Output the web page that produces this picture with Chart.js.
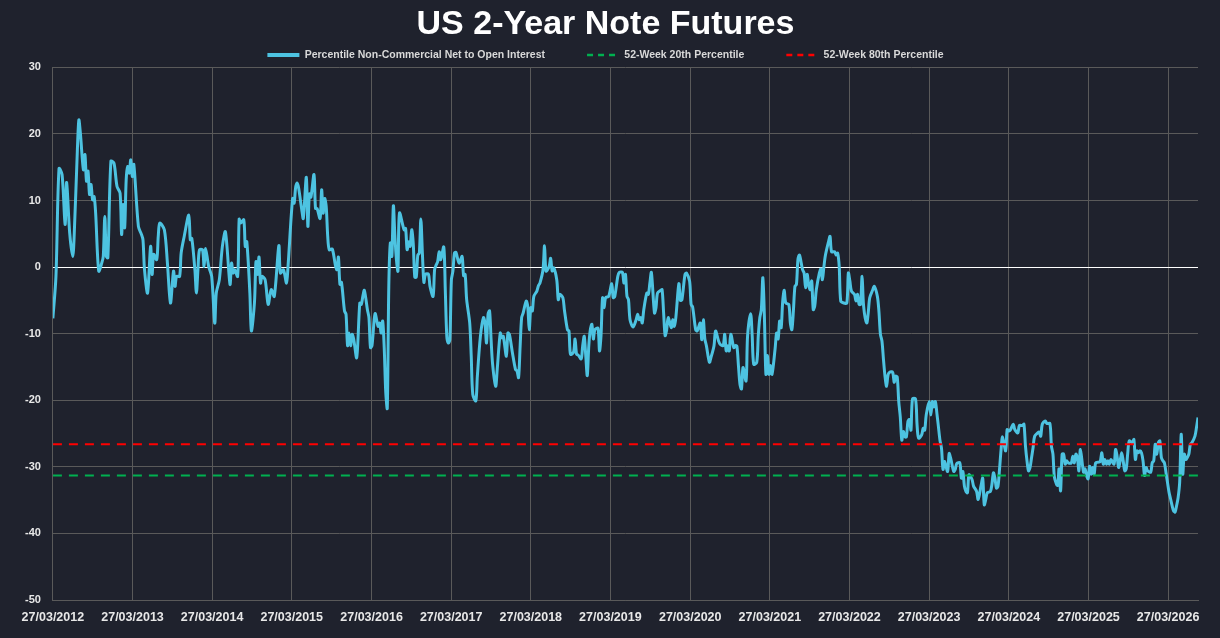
<!DOCTYPE html>
<html>
<head>
<meta charset="utf-8">
<title>US 2-Year Note Futures</title>
<script src="https://cdn.jsdelivr.net/npm/chart.js@4.4.1/dist/chart.umd.min.js"></script>
<style>
    html, body { margin: 0; padding: 0; background: #1f222d; }
    #wrap { width: 1220px; height: 638px; }
</style>
</head>
<body>
<div id="wrap"><canvas id="chart"></canvas></div>
<script>
// weeks since 27/03/2012 and the percentile reading for that week
const weekNo = [
    0, 2, 4, 6, 8, 9, 11, 13, 14, 16, 17, 18, 20, 21, 22, 23, 24, 25, 26, 27, 28, 30, 32, 33, 34, 35, 36, 38, 40, 42,
    44, 45, 46, 47, 48, 49, 50, 51, 52, 53, 56, 58, 59, 60, 62, 64, 65, 66, 68, 69, 70, 73, 75, 77, 79, 80, 81, 83, 84, 86,
    89, 90, 91, 93, 94, 95, 96, 98, 99, 100, 102, 104, 106, 107, 109, 111, 113, 116, 117, 118, 119, 121, 122, 123, 125, 126, 127, 129, 130, 132,
    133, 134, 135, 136, 137, 139, 141, 143, 145, 148, 149, 151, 153, 154, 157, 158, 159, 160, 161, 163, 164, 166, 167, 168, 169, 171, 172, 173, 175, 176,
    177, 178, 179, 180, 181, 183, 185, 186, 187, 188, 189, 191, 192, 193, 194, 195, 196, 197, 199, 201, 202, 203, 204, 206, 207, 208, 209, 211, 213, 214,
    215, 216, 217, 218, 219, 220, 221, 222, 223, 224, 225, 226, 227, 230, 231, 232, 233, 234, 235, 236, 237, 238, 239, 240, 241, 242, 243, 244, 246, 247,
    249, 250, 251, 252, 253, 254, 256, 257, 258, 259, 260, 261, 262, 263, 264, 266, 268, 269, 270, 271, 273, 274, 275, 277, 278, 280, 282, 283, 284, 285,
    286, 287, 288, 290, 291, 293, 294, 295, 297, 298, 299, 301, 303, 304, 305, 306, 307, 308, 310, 311, 312, 313, 314, 315, 317, 318, 319, 321, 322, 323,
    325, 326, 327, 328, 330, 331, 332, 334, 335, 337, 338, 339, 341, 342, 343, 344, 346, 347, 348, 349, 350, 351, 352, 353, 354, 355, 357, 358, 359, 360,
    361, 362, 364, 366, 367, 368, 370, 371, 373, 374, 375, 376, 377, 378, 380, 382, 383, 384, 385, 386, 387, 389, 390, 391, 392, 394, 395, 396, 398, 399,
    400, 401, 402, 403, 405, 406, 407, 408, 410, 411, 412, 414, 415, 417, 418, 419, 421, 422, 424, 425, 426, 427, 428, 430, 431, 433, 434, 436, 437, 439,
    440, 441, 442, 443, 444, 446, 447, 448, 449, 450, 451, 452, 454, 455, 457, 458, 459, 461, 462, 463, 464, 465, 466, 467, 468, 469, 470, 471, 473, 474,
    475, 476, 477, 478, 479, 480, 482, 483, 484, 485, 486, 487, 488, 489, 491, 492, 493, 494, 495, 496, 497, 498, 499, 500, 502, 503, 504, 505, 506, 508,
    509, 510, 512, 513, 514, 515, 516, 518, 520, 521, 522, 523, 525, 526, 527, 528, 529, 530, 531, 533, 534, 535, 537, 538, 540, 541, 542, 543, 544, 545,
    546, 547, 548, 550, 551, 552, 553, 554, 555, 556, 557, 558, 559, 560, 561, 562, 563, 565, 566, 567, 569, 570, 571, 572, 574, 575, 576, 577, 578, 579,
    580, 581, 582, 583, 584, 586, 587, 588, 590, 591, 592, 594, 595, 596, 597, 598, 599, 600, 602, 603, 605, 606, 608, 609, 610, 611, 612, 614, 615, 616,
    617, 618, 619, 620, 621, 622, 624, 625, 626, 627, 629, 630, 632, 633, 635, 636, 637, 638, 639, 640, 641, 642, 643, 645, 646, 647, 648, 650, 651, 653,
    654, 655, 656, 658, 659, 660, 661, 662, 663, 664, 665, 667, 668, 669, 670, 671, 672, 673, 675, 676, 677, 678, 679, 680, 681, 682, 683, 685, 686, 687,
    688, 689, 690, 691, 692, 693, 695, 696, 697, 698, 699, 700, 701, 702, 703, 704, 705, 707, 708, 709, 710, 711, 712, 713, 714, 715, 716, 717, 719, 720,
    721, 722, 723, 724, 725, 726, 727, 728, 729, 731, 732, 733, 734, 735, 736, 737, 738, 739, 740, 741, 742, 743, 744, 745, 746, 748, 749, 750
];
const netPct = [
    -7.7, -1.4, 14.8, 13.9, 6.4, 12.7, 5.1, 1.6, 5.1, 17.4, 22.1, 20.1, 14.6, 16.9, 12.9, 14.4, 10.9, 12.4, 10.1, 10.6, 8.1, -0.6, 0.6, 1.6, 7.6, 1.6, 1.4, 15.9, 15.6, 12.1,
    11.1, 4.9, 9.4, 5.9, 13.1, 15.1, 14.1, 16.1, 13.6, 15.4, 6.1, 4.9, 4.1, -0.4, -3.9, 3.1, -1.1, 1.9, 1.1, 4.6, 6.6, 5.6, 0.6, -5.4, -0.6, -2.9, -1.4, -1.4, 2.1, 4.6,
    7.8, 4.1, 4.3, -0.4, -3.9, -0.4, 2.6, 2.6, 0.1, 2.8, 0.1, -1.4, -8.4, -3.9, -1.9, 3.1, 5.3, -2.6, 0.6, -0.9, -0.4, -1.4, 7.2, 6.6, 7.1, 3.1, 3.8, -3.9, -9.6, -5.4,
    0.8, -1.1, 1.5, -2.4, -1.4, -1.9, -5.6, -3.4, -4.4, 3.2, -0.9, -0.4, -2.4, 0.1, 10.3, 9.6, 12.0, 12.6, 11.8, 8.6, 7.3, 13.5, 6.1, 11.0, 10.5, 13.9, 8.8, 8.8, 7.3, 11.6,
    8.1, 10.3, 9.1, 4.6, 2.6, 2.7, 0.3, -0.4, 1.5, -2.6, -2.3, -6.6, -7.1, -11.8, -9.9, -11.8, -10.1, -10.8, -13.6, -5.4, -5.6, -4.4, -3.5, -6.4, -7.6, -12.1, -11.8, -7.0, -8.9, -8.4,
    -9.9, -8.1, -12.1, -18.8, -21.2, -2.9, 3.6, 1.6, 9.2, 4.6, 1.1, -0.6, 8.1, 5.6, 5.8, 2.6, 3.8, 3.1, 5.6, 3.6, -1.5, -1.5, 1.8, 2.1, 7.2, 2.1, -2.3, -1.1, -1.1, -2.9,
    -4.4, -0.4, 0.3, 0.8, 2.3, 1.1, 3.0, -3.4, -10.4, -11.4, -10.9, -1.9, -0.6, 2.1, 2.2, 0.6, 1.6, -1.3, -1.1, -4.9, -8.4, -13.4, -19.1, -20.1, -16.4, -10.4, -7.6, -8.4, -11.4, -7.1,
    -6.6, -10.9, -14.6, -17.9, -15.4, -9.9, -10.6, -10.4, -13.4, -9.9, -10.1, -12.9, -15.4, -15.6, -16.6, -12.0, -7.6, -6.9, -5.1, -5.9, -9.4, -6.1, -6.6, -4.4, -3.6, -2.8, -2.4, -0.4, 3.2, -0.6,
    0.1, 1.3, -0.6, -0.1, -1.9, -4.9, -4.1, -4.6, -6.4, -9.4, -9.6, -13.1, -12.8, -10.8, -13.1, -13.2, -13.8, -11.8, -10.4, -13.3, -16.3, -11.8, -9.4, -8.6, -10.8, -9.4, -9.2, -12.6, -10.3, -4.6,
    -6.1, -4.6, -4.4, -2.5, -4.6, -4.4, -1.4, -0.8, -0.8, -2.4, -1.1, -4.4, -4.9, -7.9, -9.0, -7.9, -7.1, -7.9, -7.6, -8.4, -6.4, -3.9, -4.1, -2.4, -0.8, -6.9, -6.1, -3.9, -3.5, -3.4,
    -6.9, -10.3, -9.4, -7.6, -9.1, -7.9, -8.9, -7.6, -2.5, -5.0, -4.9, -1.1, -0.9, -2.1, -5.6, -6.0, -9.4, -9.6, -8.4, -10.9, -7.9, -10.8, -11.8, -14.3, -13.6, -11.8, -9.6, -11.1, -11.6, -11.8,
    -10.1, -12.6, -11.8, -12.6, -10.1, -12.1, -11.8, -11.9, -14.8, -17.6, -18.3, -15.1, -17.1, -10.3, -7.0, -10.3, -14.6, -14.3, -10.3, -7.6, -6.4, -1.6, -7.4, -16.1, -13.3, -16.1, -14.8, -16.1, -12.3, -9.9,
    -10.8, -8.1, -9.1, -5.1, -3.5, -5.4, -5.6, -8.4, -9.4, -6.6, -2.9, -2.6, 1.2, 1.8, -0.4, -0.9, -3.1, -1.1, -2.6, -3.4, -2.1, -6.4, -5.8, -3.4, -0.9, -0.3, -1.9, 0.1, 1.8, 3.8,
    4.6, 2.3, 2.3, 1.8, 2.1, 0.1, -5.1, -5.4, -5.4, -0.9, -2.1, -3.6, -4.1, -5.1, -4.1, -5.6, -5.6, -1.4, -5.9, -8.4, -6.9, -4.6, -3.4, -2.9, -4.4, -6.6, -10.1, -11.1, -13.9, -16.4,
    -17.9, -16.2, -15.8, -15.8, -17.3, -16.4, -16.5, -20.2, -22.5, -26.0, -24.7, -25.5, -25.5, -23.2, -22.9, -24.5, -19.8, -19.8, -23.7, -25.7, -25.2, -24.2, -24.5, -22.2, -20.2, -22.2, -20.2, -21.0, -20.2, -22.0,
    -24.0, -26.0, -27.2, -30.4, -29.2, -30.7, -28.0, -28.7, -30.7, -30.4, -29.5, -29.4, -31.7, -30.7, -32.9, -33.7, -33.9, -31.2, -31.9, -32.9, -33.7, -34.9, -32.7, -31.7, -35.7, -34.9, -33.9, -33.7, -32.7, -30.9,
    -31.7, -33.2, -32.9, -30.4, -27.5, -25.5, -27.6, -24.4, -24.6, -24.5, -23.6, -24.4, -24.9, -23.8, -23.8, -23.6, -26.9, -29.1, -30.6, -30.1, -28.6, -27.1, -25.4, -24.9, -24.8, -25.4, -23.6, -23.1, -23.5, -23.5,
    -26.9, -28.1, -31.6, -32.8, -30.3, -33.6, -28.1, -28.1, -29.6, -29.1, -29.4, -29.4, -28.4, -29.4, -28.1, -28.6, -30.6, -27.4, -30.8, -30.3, -31.3, -31.8, -29.9, -31.1, -30.1, -31.1, -29.4, -29.3, -29.2, -27.9,
    -29.6, -28.9, -29.6, -29.1, -29.6, -28.9, -29.6, -27.4, -28.4, -30.1, -29.1, -27.9, -29.1, -30.6, -30.3, -27.9, -26.1, -26.4, -25.9, -28.9, -27.6, -27.9, -27.6, -27.9, -29.1, -31.3, -30.1, -30.6, -30.8, -29.4,
    -29.1, -26.6, -28.1, -26.4, -26.1, -28.6, -29.1, -29.4, -30.8, -33.8, -34.8, -35.8, -36.6, -36.8, -35.8, -34.6, -32.3, -25.1, -31.1, -28.1, -28.9, -28.6, -28.1, -26.6, -26.4, -25.4, -24.1, -22.6
];

const pct20 = -31.3;   // 52-week 20th percentile
const pct80 = -26.6;   // 52-week 80th percentile
const lastWeek = 750;

const tickLabels = ['27/03/2012', '27/03/2013', '27/03/2014', '27/03/2015', '27/03/2016', '27/03/2017', '27/03/2018',
    '27/03/2019', '27/03/2020', '27/03/2021', '27/03/2022', '27/03/2023', '27/03/2024', '27/03/2025', '27/03/2026'];

const dayMs = 86400000;
function weeksFromStart(label) {
    const [d, m, y] = label.split('/').map(Number);
    return (Date.UTC(y, m - 1, d) - Date.UTC(2012, 2, 27)) / (7 * dayMs);
}
const tickWeeks = tickLabels.map(weeksFromStart);

const mainSeries = weekNo.map((w, i) => ({ x: w, y: netPct[i] }));
const flatLine = v => [{ x: 0, y: v }, { x: lastWeek, y: v }];

Chart.defaults.font.family = "'Liberation Sans', Arial, sans-serif";
const gridGrey = '#5a5a5a';
const tickColor = '#e8e8e8';

// legend keys drawn as short line samples, dashed where the series is dashed
function legendItems(chart) {
    const items = Chart.defaults.plugins.legend.labels.generateLabels(chart);
    return items.map(item => {
        const ds = chart.data.datasets[item.datasetIndex];
        item.pointStyle = 'line';
        item.strokeStyle = ds.borderColor;
        item.lineWidth = ds.borderDash ? 2.5 : 4;
        item.lineDash = ds.borderDash ? [6, 5] : [];
        return item;
    }).sort((a, b) => a.datasetIndex - b.datasetIndex);
}

// the legend padding also spaces the items apart, so trim the box a little
const tightLegend = {
    id: 'tightLegend',
    afterInit(chart) {
        const legend = chart.legend;
        if (!legend) return;
        const fit = legend.fit.bind(legend);
        legend.fit = function () {
            fit();
            this.height -= 3;
        };
    }
};

new Chart(document.getElementById('chart').getContext('2d'), {
    type: 'line',
    plugins: [tightLegend],
    data: {
        datasets: [{
            label: 'Percentile Non-Commercial Net to Open Interest',
            data: mainSeries,
            borderColor: '#4dc3e1',
            backgroundColor: '#4dc3e1',
            borderWidth: 3,
            pointRadius: 0,
            tension: 0.3,
            fill: false,
            order: 2
        }, {
            label: '52-Week 20th Percentile',
            data: flatLine(pct20),
            borderColor: '#00b050',
            backgroundColor: '#00b050',
            borderWidth: 2,
            borderDash: [9, 7],
            pointRadius: 0,
            fill: false,
            order: 1
        }, {
            label: '52-Week 80th Percentile',
            data: flatLine(pct80),
            borderColor: '#ff0000',
            backgroundColor: '#ff0000',
            borderWidth: 2,
            borderDash: [9, 7],
            pointRadius: 0,
            fill: false,
            order: 0
        }]
    },
    options: {
        animation: false,
        responsive: true,
        maintainAspectRatio: false,
        layout: { padding: { left: 13, right: 22, top: 0, bottom: 3 } },
        plugins: {
            title: {
                display: true,
                text: 'US 2-Year Note Futures',
                color: '#ffffff',
                font: { size: 34, weight: 'bold' },
                padding: { top: 4, bottom: -37 }
            },
            legend: {
                labels: {
                    color: '#d9d9d9',
                    font: { size: 10.5, weight: 'bold' },
                    usePointStyle: true,
                    pointStyleWidth: 32,
                    padding: 42,
                    generateLabels: legendItems
                }
            },
            tooltip: { enabled: false }
        },
        scales: {
            x: {
                type: 'linear',
                min: 0,
                max: lastWeek,
                afterBuildTicks: scale => {
                    scale.ticks = tickWeeks.map(v => ({ value: v }));
                },
                ticks: {
                    color: tickColor,
                    font: { size: 12.5, weight: 'bold' },
                    padding: 10,
                    maxRotation: 0,
                    autoSkip: false,
                    callback: (value, index) => tickLabels[index]
                },
                grid: { color: gridGrey, drawTicks: false },
                border: { color: gridGrey }
            },
            y: {
                min: -50,
                max: 30,
                ticks: {
                    stepSize: 10,
                    color: tickColor,
                    font: { size: 11, weight: 'bold' },
                    padding: 12
                },
                grid: {
                    color: ctx => ctx.tick.value === 0 ? '#ffffff' : gridGrey,
                    drawTicks: false
                },
                border: { color: gridGrey }
            }
        }
    }
});
</script>
</body>
</html>
